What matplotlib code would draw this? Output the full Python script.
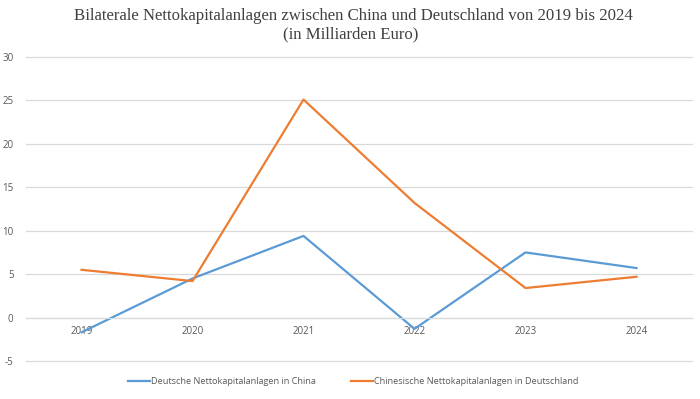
import matplotlib
matplotlib.use("Agg")
from matplotlib import pyplot as plt

#####data
years = ["2019", "2020", "2021", "2022", "2023", "2024"]
de_in_cn = [-1.7, 4.5, 9.4, -1.3, 7.5, 5.7]
cn_in_de = [5.5, 4.2, 25.1, 13.2, 3.4, 4.7]
labels = ["Deutsche Nettokapitalanlagen in China",
          "Chinesische Nettokapitalanlagen in Deutschland"]
yticks = [-5, 0, 5, 10, 15, 20, 25, 30]

blue = "#5B9BD5"
orange = "#ED7D31"
grey = "#595959"

fig = plt.figure(figsize=(7, 3.99), dpi=100)
ax = fig.add_axes([26/700, 1-361/399, 666/700, 304/399])

x = list(range(len(years)))
ax.plot(x, de_in_cn, color=blue, lw=1.6, label=labels[0])
ax.plot(x, cn_in_de, color=orange, lw=1.6, label=labels[1])

ax.set_xlim(-0.5, len(years)-0.5)
ax.set_ylim(-5, 30)
ax.set_yticks(yticks)
ax.set_yticklabels([str(v) for v in yticks])
ax.set_xticks(x)
ax.set_xticklabels(years)
ax.grid(axis="y", color="#D9D9D9", lw=0.9)
for gl in ax.get_ygridlines():
    gl.set_clip_on(False)
ax.set_axisbelow(True)
for s in ["top", "right", "left"]:
    ax.spines[s].set_visible(False)
ax.spines["bottom"].set_position(("data", 0))
ax.spines["bottom"].set_color("#D9D9D9")
ax.tick_params(axis="both", length=0, labelsize=7, labelcolor=grey)
ax.tick_params(axis="x", pad=6)
ax.tick_params(axis="y", pad=9)
for t in ax.get_xticklabels() + ax.get_yticklabels():
    t.set_family("Open Sans")

title_col = "#404040"
fig.text(353/700, 1-16/399, "Bilaterale Nettokapitalanlagen zwischen China und Deutschland von 2019 bis 2024",
         ha="center", va="center", family="Liberation Serif", fontsize=12.1, color=title_col)
fig.text(351/700, 1-34/399, "(in Milliarden Euro)",
         ha="center", va="center", family="Liberation Serif", fontsize=12.1, color=title_col)

fig.legend(loc="center", bbox_to_anchor=(353/700, 1-382/399), ncol=2, frameon=False,
           prop={"family": "Open Sans", "size": 6.6}, labelcolor=grey,
           handlelength=2.4, handletextpad=0.15, columnspacing=3.8)

fig.savefig("out.png", dpi=100)
